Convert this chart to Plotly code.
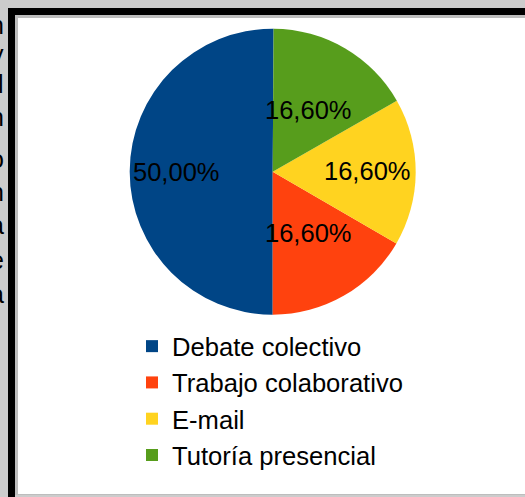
import math
import plotly.graph_objects as go

# ---- data ----
categories = ["Debate colectivo", "Trabajo colaborativo", "E-mail", "Tutoría presencial"]
values = [50.00, 16.60, 16.60, 16.60]
colors = ["#004586", "#ff420e", "#ffd320", "#579d1c"]
side_letters = ["n", "y", "l", "n", "o", "n", "a", "e", "a"]

# ---- layout constants (pixels) ----
W, H = 525, 497
FONT = "Liberation Sans, Arial, sans-serif"
pie_cx, pie_cy, pie_r = 272.7, 171.7, 143.0
label_rf = [0.67, 0.5, 0.66, 0.5]
side_baselines = [33, 62, 92, 125, 167, 200, 233, 268, 302]


def px(x):
    return x / W


def py(y):
    return 1 - y / H


fig = go.Figure(
    go.Pie(
        labels=categories,
        values=values,
        marker=dict(colors=colors, line=dict(width=0)),
        sort=False,
        direction="counterclockwise",
        rotation=180,
        textinfo="none",
        hoverinfo="label+percent",
        domain=dict(x=[px(pie_cx - pie_r), px(pie_cx + pie_r)],
                    y=[py(pie_cy + pie_r), py(pie_cy - pie_r)]),
    )
)

annotations = []
total = sum(values)
cum = 0.0
for v, rf in zip(values, label_rf):
    mid = (cum + v / 2) / total
    cum += v
    th = -2 * math.pi * mid
    x = pie_cx + rf * pie_r * math.sin(th)
    y = pie_cy - rf * pie_r * math.cos(th)
    annotations.append(dict(
        x=px(x), y=py(y), xref="paper", yref="paper",
        text=f"{v:.2f}%".replace(".", ","), showarrow=False,
        xanchor="center", yanchor="middle",
        font=dict(family=FONT, size=25.5, color="#000000"),
    ))

for ch, bl in zip(side_letters, side_baselines):
    annotations.append(dict(
        x=px(6), y=py(bl - 8), xref="paper", yref="paper",
        text=ch, showarrow=False, xanchor="right", yanchor="middle",
        font=dict(family=FONT, size=25, color="#000000"),
    ))

shapes = [
    dict(type="rect", xref="paper", yref="paper", layer="below",
         x0=px(8), x1=px(540), y0=py(510), y1=py(8),
         fillcolor="#000000", line=dict(width=0)),
    dict(type="rect", xref="paper", yref="paper", layer="below",
         x0=px(15), x1=px(540), y0=py(497), y1=py(15),
         fillcolor="#bdbdbd", line=dict(width=0)),
    dict(type="rect", xref="paper", yref="paper", layer="below",
         x0=px(18), x1=px(540), y0=py(494), y1=py(18),
         fillcolor="#ffffff", line=dict(width=0)),
    dict(type="rect", xref="paper", yref="paper", layer="below",
         x0=px(15), x1=px(540), y0=py(510), y1=py(495),
         fillcolor="#cccccc", line=dict(width=0)),
]

fig.update_layout(
    width=W, height=H,
    margin=dict(l=0, r=0, t=0, b=0),
    paper_bgcolor="#cccccc",
    plot_bgcolor="#cccccc",
    font=dict(family=FONT, size=26, color="#000000"),
    showlegend=True,
    legend=dict(
        x=px(132), y=py(323), xanchor="left", yanchor="top",
        bgcolor="rgba(0,0,0,0)", borderwidth=0,
        font=dict(family=FONT, size=25.6, color="#000000"),
        itemclick=False, itemdoubleclick=False,
    ),
    annotations=annotations,
    shapes=shapes,
)

fig.write_html(
    "out.html",
    config={"displayModeBar": False},
    post_script="document.body.style.margin='0';document.body.style.background='#cccccc';",
)
